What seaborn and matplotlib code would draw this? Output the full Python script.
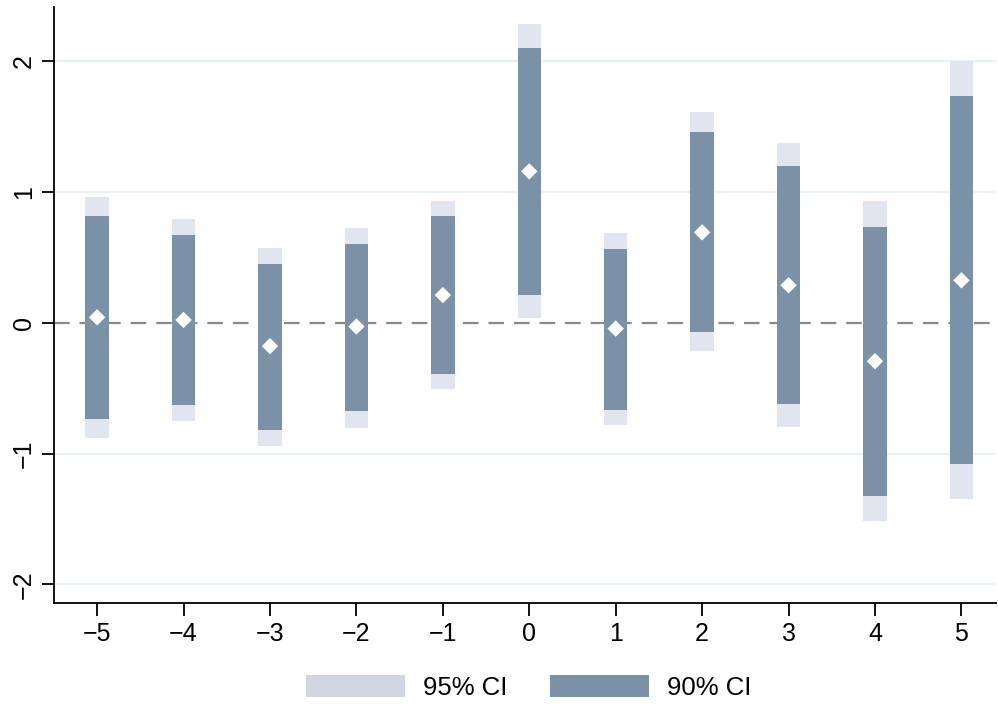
import matplotlib.pyplot as plt
import seaborn as sns
import pandas as pd
from matplotlib.patches import Patch

sns.set_style("white")
plt.rcParams["font.family"] = ["Liberation Sans", "DejaVu Sans"]

periods = [-5, -4, -3, -2, -1, 0, 1, 2, 3, 4, 5]
coef = [0.04, 0.02, -0.18, -0.03, 0.21, 1.155, -0.046, 0.689, 0.285, -0.295, 0.323]
ci95_lo = [-0.878, -0.748, -0.939, -0.802, -0.504, 0.036, -0.779, -0.219, -0.797, -1.519, -1.344]
ci95_hi = [0.962, 0.794, 0.573, 0.725, 0.931, 2.28, 0.687, 1.605, 1.372, 0.931, 1.995]
ci90_lo = [-0.740, -0.626, -0.824, -0.679, -0.389, 0.214, -0.664, -0.069, -0.621, -1.326, -1.077]
ci90_hi = [0.817, 0.672, 0.450, 0.603, 0.817, 2.10, 0.565, 1.458, 1.196, 0.733, 1.728]

df = pd.DataFrame({"period": periods, "coef": coef,
                   "lo95": ci95_lo, "hi95": ci95_hi,
                   "lo90": ci90_lo, "hi90": ci90_hi})

c95 = "#e1e5f0"
c95_leg = "#d0d7e3"
c90 = "#7b91a8"

fig = plt.figure(figsize=(9.98, 7.05), dpi=100)
ax = fig.add_axes([0.054, 0.145, 0.944, 0.845])

for y in [-2, -1, 1, 2]:
    ax.axhline(y, color="#eaf2f3", lw=1.6, zorder=0)
ax.axhline(0, color="#888888", lw=1.6, dashes=(7, 4.5), zorder=1)

w = 0.27
ax.bar(df["period"], df["hi95"] - df["lo95"], bottom=df["lo95"], width=w,
       color=c95, linewidth=0, zorder=2)
ax.bar(df["period"], df["hi90"] - df["lo90"], bottom=df["lo90"], width=w,
       color=c90, linewidth=0, zorder=3)
sns.scatterplot(data=df, x="period", y="coef", marker="D", s=70, color="white",
                edgecolor="none", zorder=4, ax=ax, legend=False)

ax.set_xlim(-5.5, 5.4)
ax.set_ylim(-2.14, 2.41)
ax.set_xticks(periods)
ax.set_xticklabels([str(p).replace("-", "\u2212") for p in periods])
ax.set_yticks([-2, -1, 0, 1, 2])
ax.set_yticklabels(["\u22122", "\u22121", "0", "1", "2"], rotation=90, va="center")
ax.set_xlabel("")
ax.set_ylabel("")
ax.tick_params(axis="both", labelsize=18, length=9, width=1.3, color="black",
               labelcolor="black", direction="out", bottom=True, left=True)
ax.tick_params(axis="y", pad=4)
ax.tick_params(axis="x", pad=5)

for side in ["top", "right"]:
    ax.spines[side].set_visible(False)
for side in ["left", "bottom"]:
    ax.spines[side].set_color("black")
    ax.spines[side].set_linewidth(1.3)

handles = [Patch(facecolor=c95_leg, edgecolor="none", label="95% CI"),
           Patch(facecolor=c90, edgecolor="none", label="90% CI")]
leg = fig.legend(handles=handles, loc="center", bbox_to_anchor=(0.5296, 0.0248),
                 ncol=2, frameon=False, fontsize=18.5, handlelength=3.86,
                 handleheight=0.9, handletextpad=0.7, columnspacing=1.64)
for t in leg.get_texts():
    t.set_color("black")

plt.savefig("out.png", dpi=100)
